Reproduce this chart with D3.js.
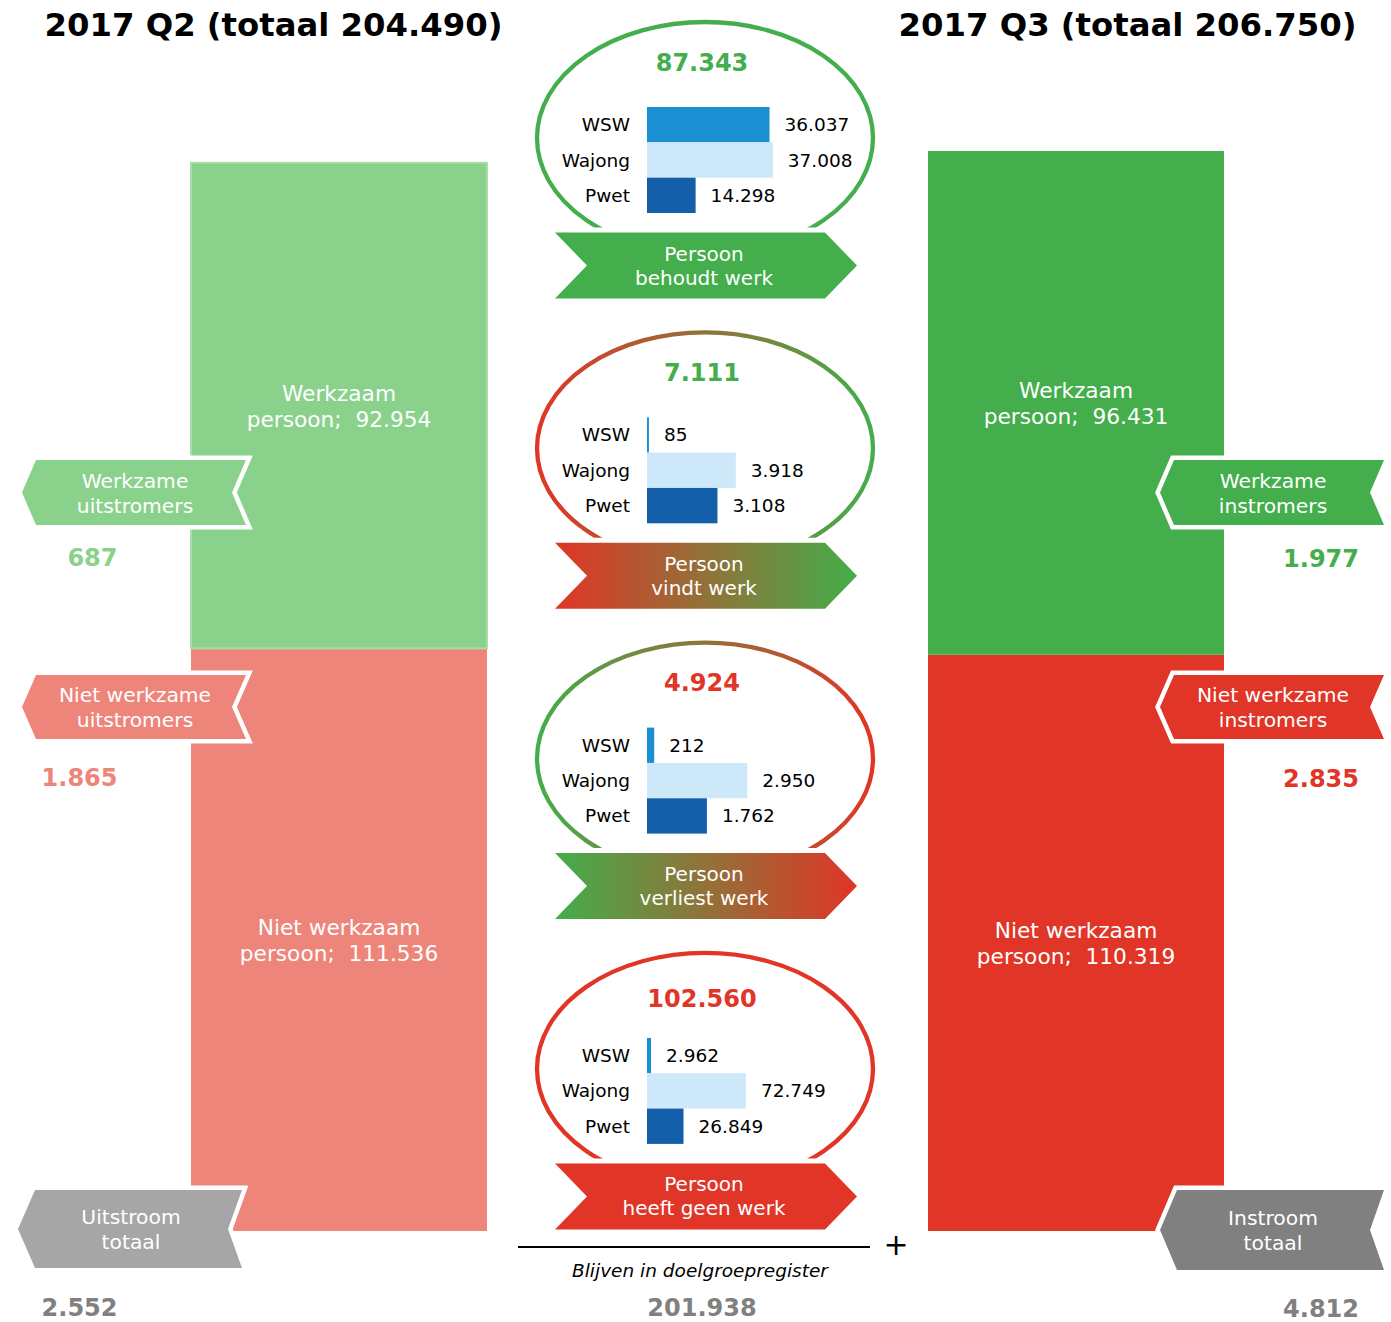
<!DOCTYPE html>
<html>
<head>
<meta charset="utf-8">
<script src="https://cdn.jsdelivr.net/npm/d3@7"></script>
<style>
  html, body { margin: 0; padding: 0; background: #fff; }
  svg { display: block; font-family: "DejaVu Sans", Verdana, sans-serif; }
</style>
</head>
<body>
<svg id="chart" width="1391" height="1322"></svg>
<script>
// ---------------- DATA ----------------
const periods = ["2017 Q2", "2017 Q3"];
const periodTotals = [204490, 206750];
const statusLabels = ["Werkzaam", "Niet werkzaam"];
const q2Values = [92954, 111536];
const q3Values = [96431, 110319];

const categories = ["WSW", "Wajong", "Pwet"];
const transitions = ["Persoon\nbehoudt werk", "Persoon\nvindt werk", "Persoon\nverliest werk", "Persoon\nheeft geen werk"];
const transitionTotals = [87343, 7111, 4924, 102560];
const wswValues = [36037, 85, 212, 2962];
const wajongValues = [37008, 3918, 2950, 72749];
const pwetValues = [14298, 3108, 1762, 26849];
const barAxisMax = [40000, 6000, 4000, 100000];

const outflowLabels = ["Werkzame\nuitstromers", "Niet werkzame\nuitstromers", "Uitstroom\ntotaal"];
const outflowValues = [687, 1865, 2552];
const inflowLabels = ["Werkzame\ninstromers", "Niet werkzame\ninstromers", "Instroom\ntotaal"];
const inflowValues = [1977, 2835, 4812];
const stayLabel = "Blijven in doelgroepregister";
const stayValue = 201938;

// ---------------- STYLE / LAYOUT ----------------
const GREEN = "#43AE4B", RED = "#E03527", LGREEN = "#8AD18C", LRED = "#EE857B";
const GRAY_L = "#A6A6A6", GRAY_D = "#808080";
const catColors = { WSW: "#1A90D2", Wajong: "#CCE8F9", Pwet: "#135FAA" };

const nl = d3.formatLocale({ decimal: ",", thousands: ".", grouping: [3], currency: ["€", ""] });
const fmt = nl.format(",d");

const svg = d3.select("#chart");
const defs = svg.append("defs");

function hGrad(id, x0, x1, c0, c1) {
  const g = defs.append("linearGradient").attr("id", id)
    .attr("gradientUnits", "userSpaceOnUse")
    .attr("x1", x0).attr("x2", x1).attr("y1", 0).attr("y2", 0);
  g.append("stop").attr("offset", "0%").attr("stop-color", c0);
  g.append("stop").attr("offset", "100%").attr("stop-color", c1);
}
hGrad("eRG", 537, 873, RED, GREEN);
hGrad("eGR", 537, 873, GREEN, RED);
hGrad("bRG", 555, 857, RED, GREEN);
hGrad("bGR", 555, 857, GREEN, RED);
const ellipseStroke = [GREEN, "url(#eRG)", "url(#eGR)", RED];
const bannerFill = [GREEN, "url(#bRG)", "url(#bGR)", RED];
const numberColor = [GREEN, GREEN, RED, RED];

// ---------------- Titles ----------------
const titleX = [273.5, 1127.5];
periods.forEach((p, i) => {
  svg.append("text").attr("x", titleX[i]).attr("y", 36)
    .attr("text-anchor", "middle").attr("font-size", 32.3).attr("font-weight", "bold")
    .attr("fill", "#000")
    .text(`${p} (totaal ${fmt(periodTotals[i])})`);
});

// ---------------- Big stacked bars ----------------
const xBand = d3.scaleBand().domain(periods).range([191, 1224]).paddingInner(0.5984).paddingOuter(0);
const yBig = d3.scaleLinear().domain([0, d3.max(periodTotals)]).range([1231, 151]);

const stacks = [q2Values, q3Values];
const bigColors = [[LGREEN, LRED], [GREEN, RED]];
periods.forEach((p, i) => {
  const vals = stacks[i];
  const bottomVal = vals[1];
  const segs = [
    { label: statusLabels[1], v: vals[1], y0: 0, y1: bottomVal, color: bigColors[i][1] },
    { label: statusLabels[0], v: vals[0], y0: bottomVal, y1: bottomVal + vals[0], color: bigColors[i][0] }
  ];
  segs.forEach((s, j) => {
    const r = svg.append("rect")
      .attr("x", xBand(p)).attr("width", xBand.bandwidth())
      .attr("y", yBig(s.y1)).attr("height", yBig(s.y0) - yBig(s.y1))
      .attr("fill", s.color);
    if (i === 0 && j === 1) r.attr("stroke", "#A9DDAA").attr("stroke-width", 2);
    const cx = xBand(p) + xBand.bandwidth() / 2;
    const cy = (yBig(s.y0) + yBig(s.y1)) / 2;
    const t = svg.append("text").attr("text-anchor", "middle").attr("font-size", 21.7).attr("fill", "#fff");
    t.append("tspan").attr("x", cx).attr("y", cy - 13 + 8).text(s.label);
    t.append("tspan").attr("x", cx).attr("y", cy + 13 + 8).attr("xml:space", "preserve").text(`persoon;  ${fmt(s.v)}`);
  });
});

// ---------------- Side arrows ----------------
function arrowPath(x0, x1, y0, y1, d) {
  const ym = (y0 + y1) / 2;
  return `M${x0},${ym}L${x0 + d},${y0}L${x1},${y0}L${x1 - 14},${ym}L${x1},${y1}L${x0 + d},${y1}Z`;
}
function drawArrow(x0, x1, y0, y1, d, fill, label) {
  svg.append("path").attr("d", arrowPath(x0, x1, y0, y1, d))
    .attr("fill", fill).attr("stroke", "#fff").attr("stroke-width", 9)
    .attr("stroke-linejoin", "miter").attr("stroke-miterlimit", 2)
    .attr("paint-order", "stroke");
  const lines = label.split("\n");
  const cx = (x0 + x1) / 2 + 1, cy = (y0 + y1) / 2;
  const t = svg.append("text").attr("text-anchor", "middle").attr("font-size", 20.3).attr("fill", "#fff");
  lines.forEach((l, k) => t.append("tspan").attr("x", cx).attr("y", cy + (k - 0.5) * 25 + 7.5).text(l));
}
const outColors = [LGREEN, LRED, GRAY_L];
const inColors = [GREEN, RED, GRAY_D];
const arrowY = [[460, 525], [675, 739], [1190, 1268]];
const arrowYR = [[460, 525], [675, 739], [1190, 1270]];
const numY = [[557, 777, 1307], [558, 778, 1308]];
outflowLabels.forEach((l, i) => {
  drawArrow(i === 2 ? 18 : 22, i === 2 ? 242 : 246, arrowY[i][0], arrowY[i][1], i === 2 ? 17 : 14, outColors[i], l);
  svg.append("text").attr("x", 117.5).attr("y", numY[0][i] + 8.5).attr("text-anchor", "end")
    .attr("font-size", 24).attr("font-weight", "bold").attr("fill", i === 2 ? GRAY_D : outColors[i])
    .text(fmt(outflowValues[i]));
});
inflowLabels.forEach((l, i) => {
  drawArrow(1160, 1384, arrowYR[i][0], arrowYR[i][1], i === 2 ? 17 : 14, inColors[i], l);
  svg.append("text").attr("x", 1359).attr("y", numY[1][i] + 8.5).attr("text-anchor", "end")
    .attr("font-size", 24).attr("font-weight", "bold").attr("fill", inColors[i])
    .text(fmt(inflowValues[i]));
});

// ---------------- Ellipses with bar charts ----------------
const step = 310.3;
const numberDy = [42, 42, 42, 48];
transitions.forEach((tr, k) => {
  const top = 20 + k * step;
  const cx = 705, rx = 168, ry = 116;
  const cy = top + 2 + ry;
  const bannerTop = 232.5 + k * step, bannerBot = bannerTop + 66;

  const clipId = "clip" + k;
  defs.append("clipPath").attr("id", clipId).append("rect")
    .attr("x", 0).attr("y", top - 10).attr("width", 1391).attr("height", bannerTop - 5 - (top - 10));
  svg.append("ellipse").attr("cx", cx).attr("cy", cy).attr("rx", rx).attr("ry", ry)
    .attr("fill", "none").attr("stroke", ellipseStroke[k]).attr("stroke-width", 4.3)
    .attr("clip-path", `url(#${clipId})`);

  svg.append("text").attr("x", 702).attr("y", top + numberDy[k] + 8.5).attr("text-anchor", "middle")
    .attr("font-size", 24).attr("font-weight", "bold").attr("fill", numberColor[k])
    .text(fmt(transitionTotals[k]));

  const vals = [wswValues[k], wajongValues[k], pwetValues[k]];
  const x = d3.scaleLinear().domain([0, barAxisMax[k]]).range([647, 783]);
  const y = d3.scaleBand().domain(categories).range([top + 87, top + 193]).padding(0);
  const g = svg.append("g");
  categories.forEach((c, j) => {
    g.append("rect").attr("x", x(0)).attr("y", y(c)).attr("width", x(vals[j]) - x(0))
      .attr("height", y.bandwidth()).attr("fill", catColors[c]);
    g.append("text").attr("x", 630).attr("y", y(c) + y.bandwidth() / 2 + 6.5)
      .attr("text-anchor", "end").attr("font-size", 18.5).attr("fill", "#000").text(c);
    g.append("text").attr("x", x(vals[j]) + 15).attr("y", y(c) + y.bandwidth() / 2 + 6.5)
      .attr("font-size", 18.5).attr("fill", "#000").text(fmt(vals[j]));
  });

  const bx0 = 555, bx1 = 857, d = 32, bym = (bannerTop + bannerBot) / 2;
  svg.append("path")
    .attr("d", `M${bx0},${bannerTop}L${bx1 - d},${bannerTop}L${bx1},${bym}L${bx1 - d},${bannerBot}L${bx0},${bannerBot}L${bx0 + d},${bym}Z`)
    .attr("fill", bannerFill[k]);
  const lines = tr.split("\n");
  const t = svg.append("text").attr("text-anchor", "middle").attr("font-size", 20).attr("fill", "#fff");
  lines.forEach((l, i) => t.append("tspan").attr("x", 704).attr("y", bym + (i - 0.5) * 24 + 7).text(l));
});

// ---------------- Bottom sum ----------------
svg.append("line").attr("x1", 518).attr("x2", 870).attr("y1", 1247).attr("y2", 1247)
  .attr("stroke", "#000").attr("stroke-width", 2);
svg.append("text").attr("x", 896).attr("y", 1255).attr("text-anchor", "middle")
  .attr("font-size", 30).attr("fill", "#000").text("+");
svg.append("text").attr("x", 700).attr("y", 1276.5).attr("text-anchor", "middle")
  .attr("font-size", 18.5).attr("font-style", "italic").attr("fill", "#000").text(stayLabel);
svg.append("text").attr("x", 702).attr("y", 1316).attr("text-anchor", "middle")
  .attr("font-size", 24).attr("font-weight", "bold").attr("fill", GRAY_D).text(fmt(stayValue));
</script>
</body>
</html>
